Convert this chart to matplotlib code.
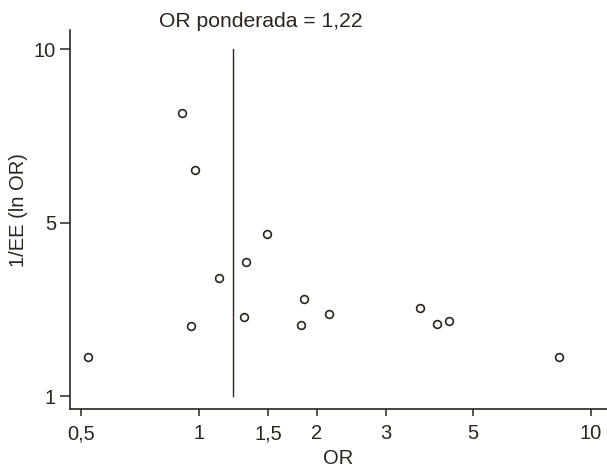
import numpy as np
import matplotlib
matplotlib.use("Agg")
import matplotlib.pyplot as plt

# odds ratio and precision (1/EE of ln OR) per study
odds_ratio = [0.903, 0.975, 1.488, 1.318, 1.123, 1.853, 2.150, 1.300,
              1.820, 0.956, 0.520, 3.663, 4.040, 4.335, 8.29]
precision = [8.03, 6.40, 4.70, 4.00, 3.63, 3.13, 2.77, 2.72,
             2.53, 2.50, 1.82, 2.91, 2.55, 2.62, 1.83]
pooled_or = 1.22

x_ticks = [0.5, 1, 1.5, 2, 3, 5, 10]
x_ticklabels = ["0,5", "1", "1,5", "2", "3", "5", "10"]
y_ticks = [1, 5, 10]
y_ticklabels = ["1", "5", "10"]

ink = "#2b251d"
plt.rcParams["font.family"] = ["Liberation Sans", "DejaVu Sans"]

fig = plt.figure(figsize=(6.07, 4.69), dpi=100)
ax = fig.add_axes([70 / 607, 1 - 409 / 469, 1 - 70 / 607, (409 - 30) / 469])

ax.set_xscale("log")
ax.set_yscale("function", functions=(lambda y: np.log(np.asarray(y) + 15),
                                     lambda f: np.exp(np.asarray(f)) - 15))

ax.plot([pooled_or, pooled_or], [1, 10], color=ink, lw=1.0)
ax.plot(odds_ratio, precision, "o", mfc="white", mec=ink, ms=5.6, mew=1.2,
        linestyle="none", zorder=3)

ax.set_xlim(0.469, 10.98)
ax.set_ylim(0.735, 10.62)

ax.set_xticks(x_ticks)
ax.set_xticklabels(x_ticklabels)
ax.xaxis.set_minor_locator(matplotlib.ticker.NullLocator())
ax.set_yticks(y_ticks)
ax.set_yticklabels(y_ticklabels)
ax.yaxis.set_minor_locator(matplotlib.ticker.NullLocator())

for s in ("top", "right"):
    ax.spines[s].set_visible(False)
for s in ("left", "bottom"):
    ax.spines[s].set_color(ink)
    ax.spines[s].set_linewidth(1.2)

ax.tick_params(axis="x", length=5, width=1.1, color=ink, labelcolor=ink,
               labelsize=14.5, pad=6)
ax.tick_params(axis="y", length=7, width=1.1, color=ink, labelcolor=ink,
               labelsize=14.5, pad=3)

ax.set_xlabel("OR", fontsize=14.5, color=ink, labelpad=4)
ax.set_ylabel("1/EE (ln OR)", fontsize=14.5, color=ink)
ax.yaxis.set_label_coords(-0.078, 0.525)

fig.text(261 / 607, 1 - 27 / 469, "OR ponderada = 1,22", ha="center",
         va="baseline", fontsize=15.2, color=ink)

fig.savefig("out.png", dpi=100)
